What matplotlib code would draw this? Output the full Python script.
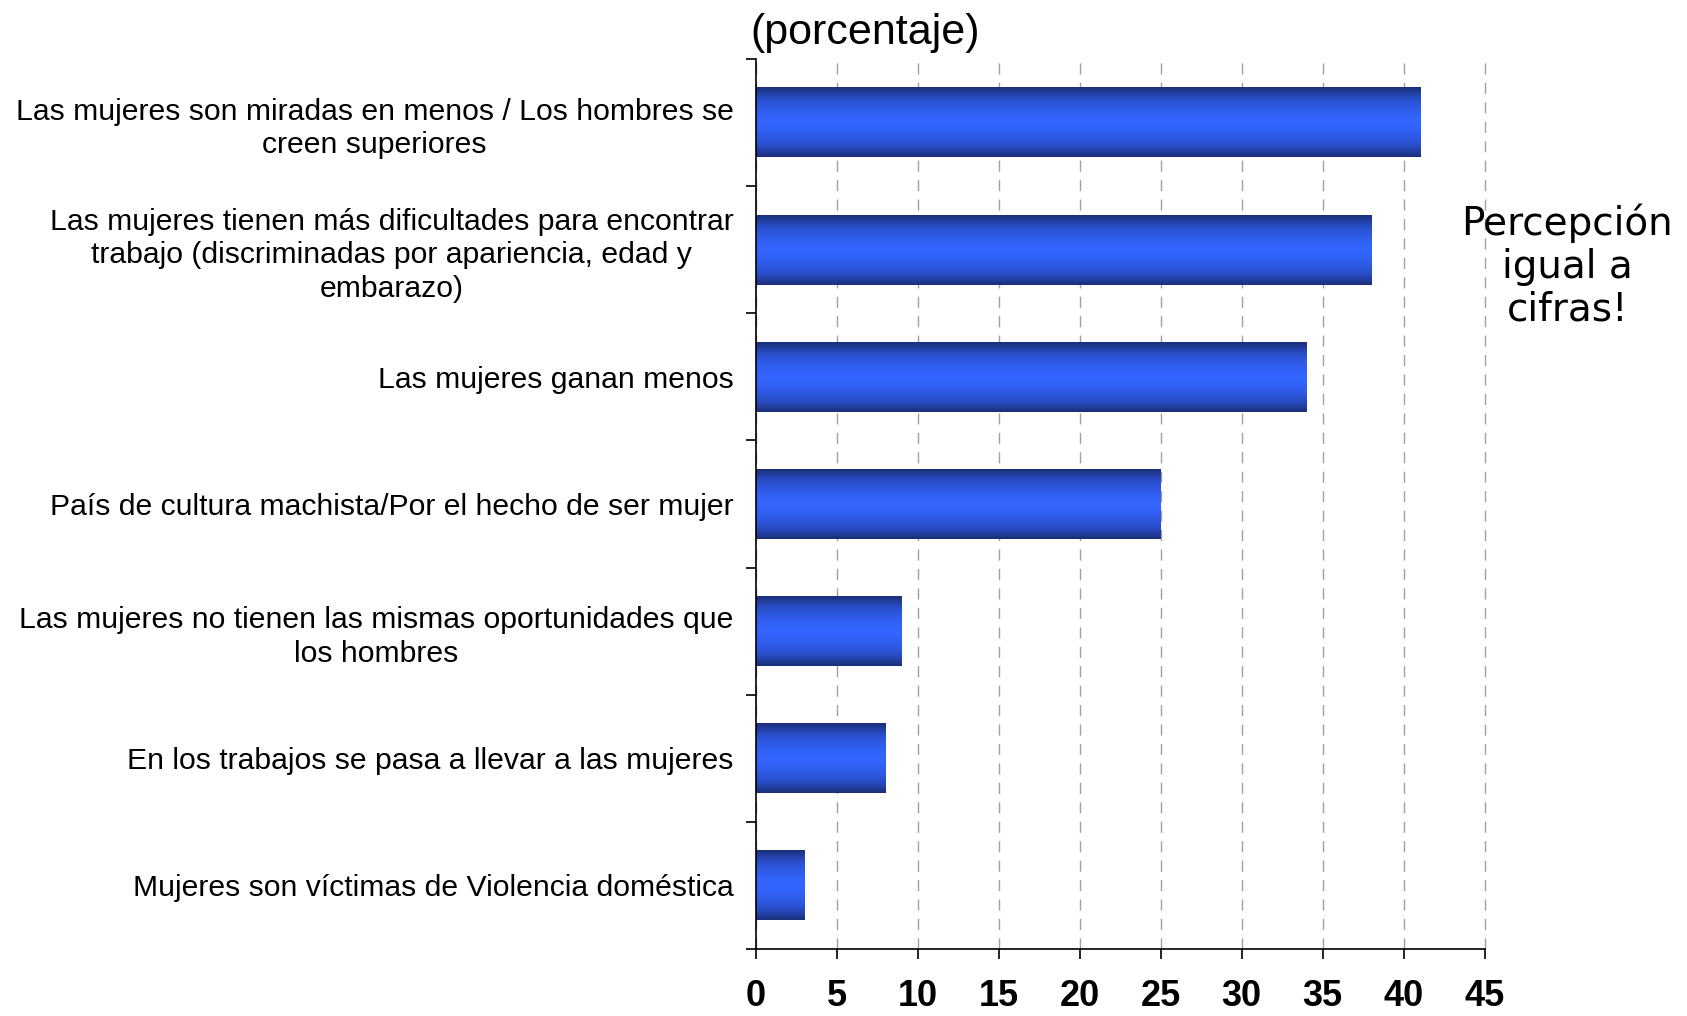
import numpy as np
import matplotlib
matplotlib.use('Agg')
import matplotlib.pyplot as plt
from matplotlib.colors import LinearSegmentedColormap

categorias = [
    'Las mujeres son miradas en menos / Los hombres se\ncreen superiores',
    'Las mujeres tienen más dificultades para encontrar\ntrabajo (discriminadas por apariencia, edad y\nembarazo)',
    'Las mujeres ganan menos',
    'País de cultura machista/Por el hecho de ser mujer',
    'Las mujeres no tienen las mismas oportunidades que\nlos hombres',
    'En los trabajos se pasa a llevar a las mujeres',
    'Mujeres son víctimas de Violencia doméstica',
]
valores = [41, 38, 34, 25, 9, 8, 3]
xticks = [0, 5, 10, 15, 20, 25, 30, 35, 40, 45]

fig = plt.figure(figsize=(16.87, 10.16), dpi=100)
ax = fig.add_axes([0.448, 0.066, 0.432, 0.876])

# degradado vertical de las barras (oscuro - claro - oscuro)
cmap = LinearSegmentedColormap.from_list('barra', ['#1a2f78', '#2a4fcc', '#3366ff'])
t = np.linspace(-1, 1, 200)
perfil = 1 - np.abs(t) ** 1.6
grad = perfil.reshape(-1, 1)

n = len(categorias)
pos = np.arange(n)
alto = 0.55
for y, v in zip(pos, valores):
    ax.imshow(grad, extent=[0, v, y + alto / 2, y - alto / 2], cmap=cmap,
              aspect='auto', interpolation='bilinear', vmin=0, vmax=1, zorder=2)

ax.set_xlim(0, 45)
ax.set_ylim(n - 0.5, -0.5)

ax.set_xticks(xticks)
ax.set_xticklabels([str(x) for x in xticks], fontsize=26, fontweight='bold',
                   family=['Liberation Sans Narrow', 'Liberation Sans', 'DejaVu Sans'])
ax.tick_params(axis='x', direction='out', length=7, width=1.2, pad=15)

ax.set_yticks(pos)
ax.set_yticklabels(categorias, fontsize=21.7, family=['Liberation Sans', 'Arial', 'DejaVu Sans'],
                   multialignment='center', linespacing=1.25)
ax.tick_params(axis='y', which='major', length=0, pad=16)
ax.set_yticks(np.arange(n + 1) - 0.5, minor=True)
ax.tick_params(axis='y', which='minor', length=7, width=1.2, direction='out')

ax.grid(axis='x', linestyle=(0, (8, 6)), color='#a0a0a0', linewidth=1, zorder=0)
for gl in ax.get_xgridlines():
    gl.set_clip_on(False)
ax.set_axisbelow(True)
for s in ['top', 'right']:
    ax.spines[s].set_visible(False)
for s in ['left', 'bottom']:
    ax.spines[s].set_linewidth(1.2)

fig.text(0.445, 0.968, '(porcentaje)', fontsize=31, ha='left', va='center',
         family=['Liberation Sans', 'DejaVu Sans'])
fig.text(0.929, 0.738, 'Percepción\nigual a\ncifras!', fontsize=28, ha='center', va='center',
         family='DejaVu Sans', linespacing=1.15)

fig.savefig('out.png', dpi=100)
